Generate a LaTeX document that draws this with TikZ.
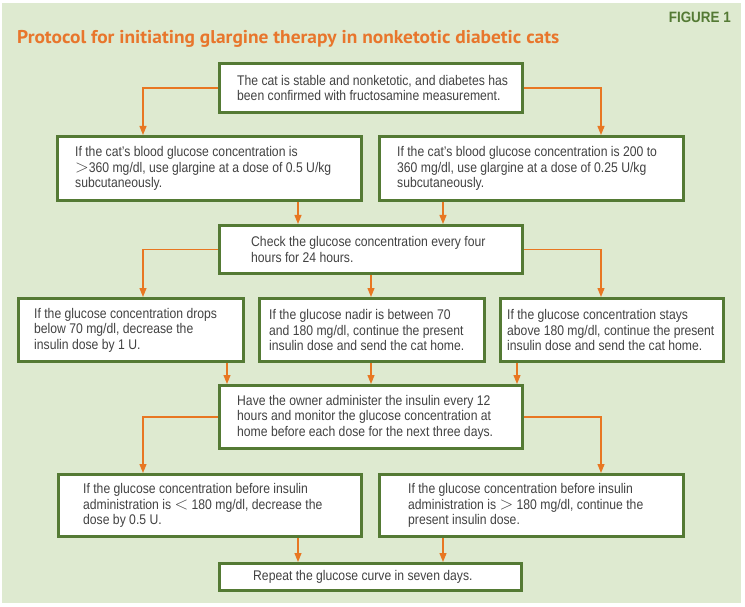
\documentclass[tikz,border=0pt]{standalone}
\usepackage{fontspec}
\usepackage{graphicx}
\setmainfont{Liberation Sans}
\newfontfamily\bodyfont{Liberation Sans}[FakeStretch=0.87]
\newfontfamily\titlefont{PT Sans}
\usetikzlibrary{arrows.meta}
\definecolor{bgcol}{RGB}{222,234,208}
\definecolor{boxgreen}{RGB}{84,122,52}
\definecolor{linecol}{RGB}{232,119,34}
\definecolor{titleorange}{RGB}{232,118,44}
\definecolor{textgray}{RGB}{66,66,66}
\newcommand{\gtsym}{\raisebox{-0.3pt}{\scalebox{1.25}{$>$}}}
\newcommand{\ltsym}{\raisebox{-0.3pt}{\scalebox{1.25}{$<$}}}
\tikzset{
  box/.style={draw=boxgreen, line width=3pt, fill=white, inner sep=0pt},
  txt/.style={inner sep=0pt, anchor=west, align=left, text=textgray,
    font=\bodyfont\fontsize{14}{15.5}\selectfont},
  conn/.style={draw=linecol, line width=1.2pt, -{Triangle[width=7pt,length=9pt]}}
}
\begin{document}
\begin{tikzpicture}[x=1pt,y=-1pt]
\useasboundingbox (0,0) rectangle (745,607);
\fill[bgcol] (2,3) rectangle (741,603);

\node[anchor=base west, inner sep=0pt, text=titleorange] (title) at (17,44)
  {\resizebox{542pt}{\height}{\titlefont\bfseries\fontsize{18.5}{20}\selectfont Protocol for initiating glargine therapy in nonketotic diabetic cats}};
\node[anchor=base east, inner sep=0pt, text=boxgreen] (fig) at (731,22.5)
  {\resizebox{62pt}{\height}{\bfseries\fontsize{15}{17}\selectfont FIGURE 1}};

% boxes
\node[box, minimum width=303pt, minimum height=49pt] (A) at (371,88) {};
\node[box, minimum width=304pt, minimum height=64pt] (B1) at (209.5,168.5) {};
\node[box, minimum width=304pt, minimum height=64pt] (B2) at (531.5,168.5) {};
\node[box, minimum width=303pt, minimum height=48pt] (C) at (371,249.5) {};
\node[box, minimum width=225pt, minimum height=63pt] (D1) at (131,330) {};
\node[box, minimum width=225pt, minimum height=63pt] (D2) at (372,330) {};
\node[box, minimum width=223pt, minimum height=63pt] (D3) at (612,330) {};
\node[box, minimum width=303pt, minimum height=63pt] (E) at (371,417) {};
\node[box, minimum width=303pt, minimum height=62pt] (F1) at (210,505.5) {};
\node[box, minimum width=304pt, minimum height=62pt] (F2) at (531.5,505.5) {};
\node[box, minimum width=302pt, minimum height=27pt] (G) at (370.5,577) {};

% texts
\node[txt] (tA) at (237,88) {The cat is stable and nonketotic, and diabetes has\\been confirmed with fructosamine measurement.};
\node[txt] (tB1) at (75,168.5) {If the cat’s blood glucose concentration is\\\gtsym360 mg/dl, use glargine at a dose of 0.5 U/kg\\subcutaneously.};
\node[txt] (tB2) at (397,168.5) {If the cat’s blood glucose concentration is 200 to\\360 mg/dl, use glargine at a dose of 0.25 U/kg\\subcutaneously.};
\node[txt] (tC) at (251,249.5) {Check the glucose concentration every four\\hours for 24 hours.};
\node[txt] (tD1) at (34,330) {If the glucose concentration drops\\below 70 mg/dl, decrease the\\insulin dose by 1 U.};
\node[txt] (tD2) at (269,330) {If the glucose nadir is between 70\\and 180 mg/dl, continue the present\\insulin dose and send the cat home.};
\node[txt] (tD3) at (507,330) {If the glucose concentration stays\\above 180 mg/dl, continue the present\\insulin dose and send the cat home.};
\node[txt] (tE) at (237,417) {Have the owner administer the insulin every 12\\hours and monitor the glucose concentration at\\home before each dose for the next three days.};
\node[txt] (tF1) at (83,505.5) {If the glucose concentration before insulin\\administration is \ltsym{} 180 mg/dl, decrease the\\dose by 0.5 U.};
\node[txt] (tF2) at (408,505.5) {If the glucose concentration before insulin\\administration is \gtsym{} 180 mg/dl, continue the\\present insulin dose.};
\node[txt] (tG) at (253,577) {Repeat the glucose curve in seven days.};

% connectors
\draw[conn] (A.west) -| ([xshift=-66.5pt]B1.north);
\draw[conn] (A.east) -| ([xshift=69.5pt]B2.north);
\draw[conn] ([xshift=88.5pt]B1.south) -- ([xshift=88.5pt]B1.south |- C.north);
\draw[conn] ([xshift=-88.5pt]B2.south) -- ([xshift=-88.5pt]B2.south |- C.north);
\draw[conn] (C.west) -| ([xshift=12pt]D1.north);
\draw[conn] (C.east) -| ([xshift=-11pt]D3.north);
\draw[conn] (C.south) -- (C.south |- D2.north);
\draw[conn] ([xshift=96pt]D1.south) -- ([xshift=96pt]D1.south |- E.north);
\draw[conn] ([xshift=-1pt]D2.south) -- ([xshift=-1pt]D2.south |- E.north);
\draw[conn] ([xshift=-95pt]D3.south) -- ([xshift=-95pt]D3.south |- E.north);
\draw[conn] (E.west) -| ([xshift=-67pt]F1.north);
\draw[conn] (E.east) -| ([xshift=69.5pt]F2.north);
\draw[conn] ([xshift=88pt]F1.south) -- ([xshift=88pt]F1.south |- G.north);
\draw[conn] ([xshift=-88.5pt]F2.south) -- ([xshift=-88.5pt]F2.south |- G.north);
\end{tikzpicture}
\end{document}
